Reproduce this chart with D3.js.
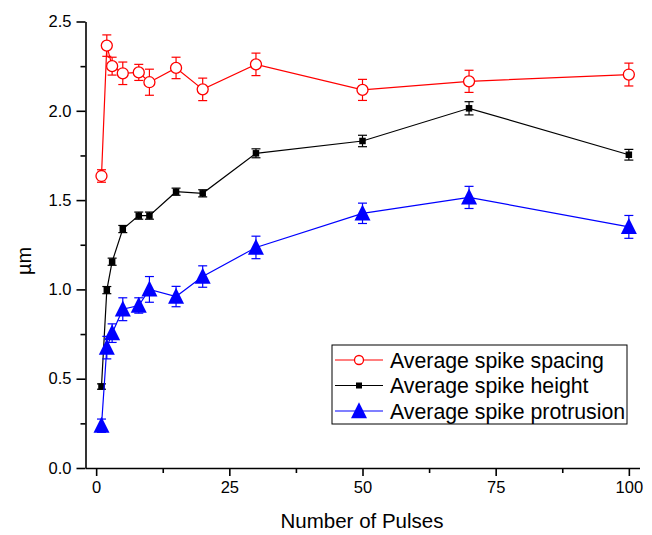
<!DOCTYPE html>
<html>
<head>
<meta charset="utf-8">
<script src="https://cdn.jsdelivr.net/npm/d3@7"></script>
<style>
  body { margin: 0; background: #fff; }
  svg { display: block; font-family: Arial, "Liberation Sans", sans-serif; }
</style>
</head>
<body>
<svg width="652" height="535"></svg>
<script>
const pulses = [1, 2, 3, 5, 8, 10, 15, 20, 30, 50, 70, 100];

const spacing = [1.635, 2.365, 2.25, 2.21, 2.215, 2.16, 2.24, 2.12, 2.26, 2.117, 2.165, 2.203];
const spacingErr = [0.035, 0.06, 0.05, 0.063, 0.045, 0.073, 0.06, 0.063, 0.063, 0.059, 0.062, 0.064];

const height = [0.456, 0.996, 1.155, 1.338, 1.413, 1.413, 1.547, 1.538, 1.762, 1.831, 2.014, 1.754];
const heightErr = [0.015, 0.02, 0.02, 0.02, 0.02, 0.02, 0.02, 0.02, 0.025, 0.032, 0.037, 0.03];

const protrusion = [0.237, 0.674, 0.755, 0.889, 0.91, 1.0, 0.96, 1.072, 1.235, 1.426, 1.515, 1.35];
const protrusionErr = [0.037, 0.063, 0.052, 0.064, 0.043, 0.072, 0.057, 0.06, 0.063, 0.057, 0.062, 0.064];

const xTicks = [0, 25, 50, 75, 100];
const xMinor = [12.5, 37.5, 62.5, 87.5];
const yTicks = [0, 0.5, 1.0, 1.5, 2.0, 2.5];
const yMinor = [0.25, 0.75, 1.25, 1.75, 2.25];

const seriesNames = ['Average spike spacing', 'Average spike height', 'Average spike protrusion'];

const svg = d3.select('svg');

const xScale = d3.scaleLinear().domain([-2, 102]).range([85.5, 639.5]);
const yScale = d3.scaleLinear().domain([0, 2.5]).range([468, 21.5]);

// Axes
const drawAxes = () => {
    const xg = svg.append('g').attr('transform', 'translate(0,468)');
    xg.call(d3.axisBottom(xScale).tickValues(xTicks).tickSize(8).tickPadding(5).tickSizeOuter(0));
    xg.append('g').call(d3.axisBottom(xScale).tickValues(xMinor).tickSize(5).tickFormat('').tickSizeOuter(0))
        .select('.domain').remove();

    const yg = svg.append('g').attr('transform', 'translate(85.5,0)');
    yg.call(d3.axisLeft(yScale).tickValues(yTicks).tickSize(9).tickPadding(5).tickSizeOuter(0).tickFormat(d3.format('.1f')));
    yg.append('g').call(d3.axisLeft(yScale).tickValues(yMinor).tickSize(5).tickFormat('').tickSizeOuter(0))
        .select('.domain').remove();

    svg.selectAll('.domain, .tick line').attr('stroke', '#000').attr('stroke-width', 1.6);
    svg.selectAll('.tick text').attr('font-size', 16.5).attr('fill', '#000');

    svg.append('text')
        .attr('x', 362).attr('y', 528)
        .attr('text-anchor', 'middle')
        .attr('font-size', 20.5)
        .text('Number of Pulses');

    svg.append('text')
        .attr('transform', 'translate(31,261) rotate(-90)')
        .attr('text-anchor', 'middle')
        .attr('font-size', 20)
        .text('\u00b5m');
};

const triangle = (cx, cy, s) => `M${cx},${cy - s * 0.55}L${cx + s / 2},${cy + s * 0.45}L${cx - s / 2},${cy + s * 0.45}Z`;

const drawMarker = (g, kind, cx, cy, color, size) => {
    if (kind === 'circle') {
        g.append('circle').attr('cx', cx).attr('cy', cy).attr('r', size)
            .attr('fill', '#fff').attr('stroke', color).attr('stroke-width', 1.3);
    } else if (kind === 'square') {
        g.append('rect').attr('x', cx - size / 2).attr('y', cy - size / 2)
            .attr('width', size).attr('height', size).attr('fill', color);
    } else {
        g.append('path').attr('d', triangle(cx, cy, size)).attr('fill', color);
    }
};

const drawSeries = (values, errs, color, kind, size) => {
    const data = pulses.map((p, i) => ({ x: p, y: values[i], e: errs[i] }));
    const g = svg.append('g');

    // error bars
    const eb = g.append('g').attr('stroke', color).attr('stroke-width', 1.2).attr('fill', 'none');
    data.forEach(d => {
        const cx = xScale(d.x);
        const top = yScale(d.y + d.e), bot = yScale(d.y - d.e);
        eb.append('line').attr('x1', cx).attr('x2', cx).attr('y1', top).attr('y2', bot);
        eb.append('line').attr('x1', cx - 4.5).attr('x2', cx + 4.5).attr('y1', top).attr('y2', top);
        eb.append('line').attr('x1', cx - 4.5).attr('x2', cx + 4.5).attr('y1', bot).attr('y2', bot);
    });

    // line
    g.append('path')
        .datum(data)
        .attr('d', d3.line().x(d => xScale(d.x)).y(d => yScale(d.y)))
        .attr('fill', 'none')
        .attr('stroke', color)
        .attr('stroke-width', 1.2);

    // markers
    data.forEach(d => drawMarker(g, kind, xScale(d.x), yScale(d.y), color, size));
};

const drawLegend = () => {
    const g = svg.append('g');
    g.append('rect').attr('x', 332).attr('y', 345).attr('width', 295).attr('height', 79)
        .attr('fill', '#fff').attr('stroke', '#000').attr('stroke-width', 1);
    const items = [
        { color: '#ff0000', kind: 'circle', size: 4.5 },
        { color: '#000000', kind: 'square', size: 6 },
        { color: '#0000ff', kind: 'triangle', size: 16 },
    ];
    items.forEach((it, i) => {
        const cy = 360 + i * 25.5;
        g.append('line').attr('x1', 335).attr('x2', 383).attr('y1', cy).attr('y2', cy)
            .attr('stroke', it.color).attr('stroke-width', 1.2);
        drawMarker(g, it.kind, 359, cy, it.color, it.size);
        g.append('text').attr('x', 390).attr('y', cy + 7.5).attr('font-size', 21.3).text(seriesNames[i]);
    });
};

drawAxes();
drawSeries(spacing, spacingErr, '#ff0000', 'circle', 5.5);
drawSeries(height, heightErr, '#000000', 'square', 6.5);
drawSeries(protrusion, protrusionErr, '#0000ff', 'triangle', 16);
drawLegend();
</script>
</body>
</html>
